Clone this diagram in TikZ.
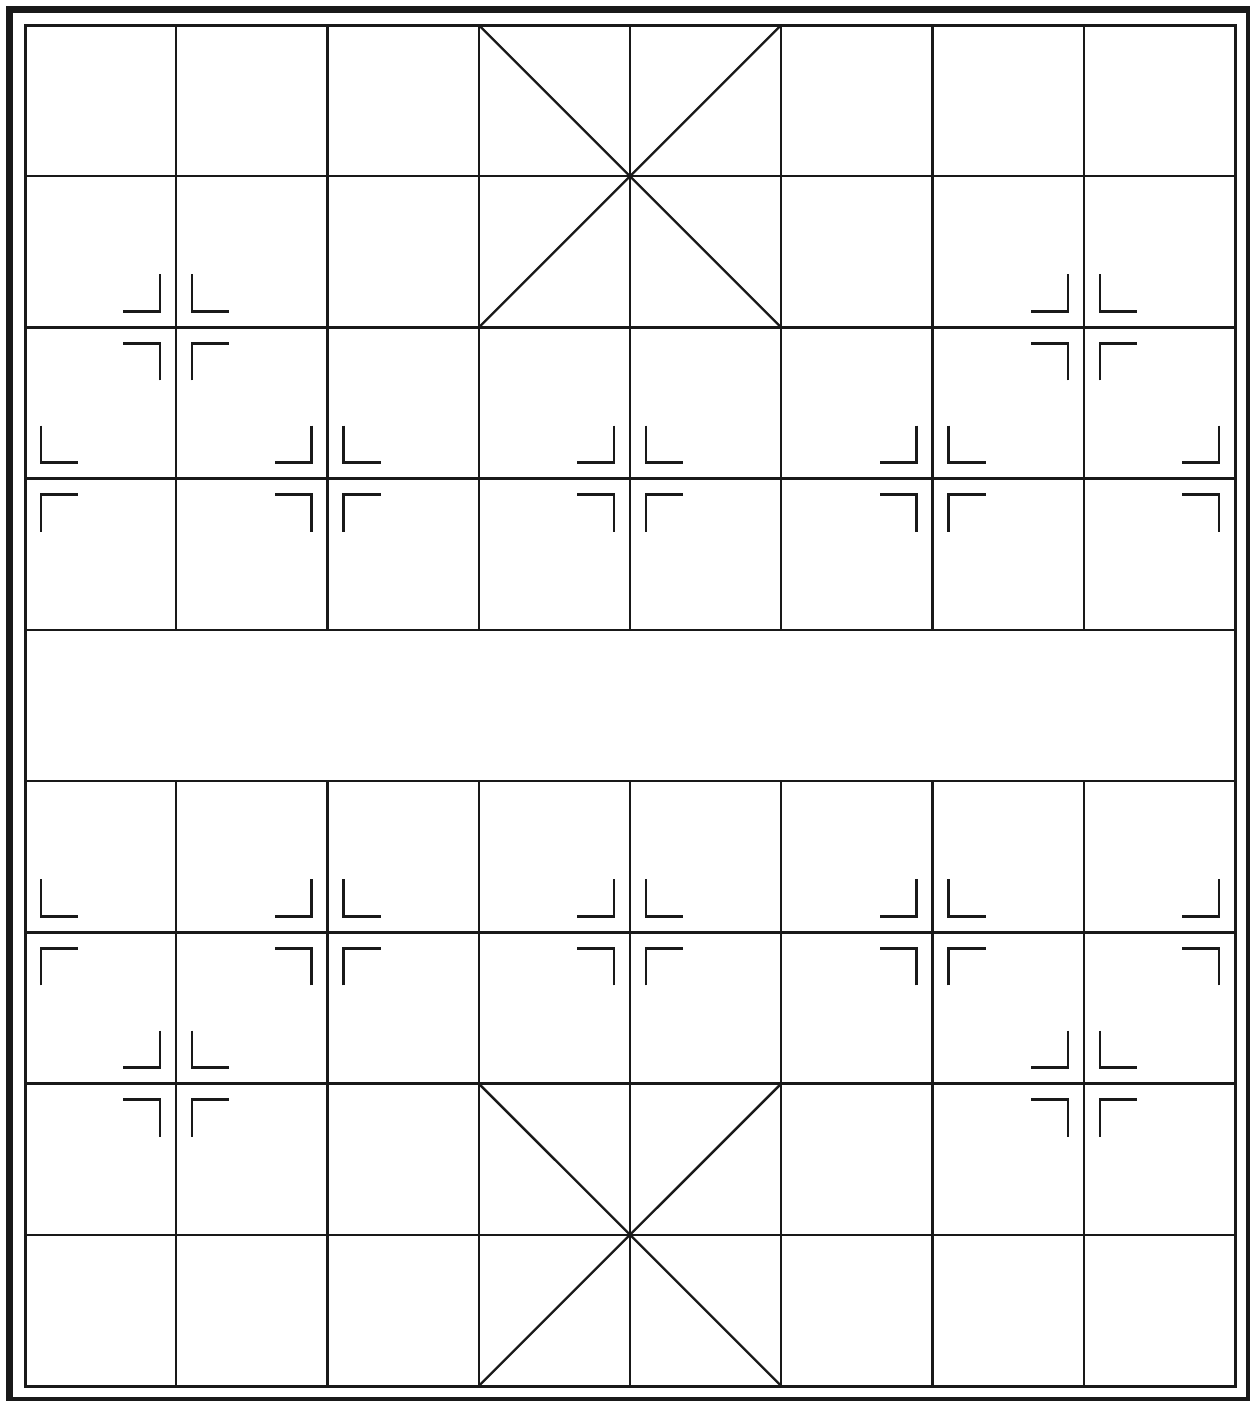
\documentclass[tikz,border=0pt]{standalone}
\begin{document}
\begin{tikzpicture}[x=0.02cm,y=-0.02cm,
  gridline/.style={line width=2.4*0.02cm, color=black!90},
  innerframe/.style={line width=3*0.02cm, color=black!90},
  outerframe/.style={line width=7*0.02cm, color=black!90},
  markline/.style={line width=2.4*0.02cm, color=black!90}]
\useasboundingbox (0,0) rectangle (1250,1401);
\begin{scope}
\clip (0,0) rectangle (1250,1401);
\draw[outerframe] (9.5,9.5) rectangle (1249.5,1400.5);
\end{scope}
\def\cx{151.25}
\def\cy{151.222}
% inner frame
\draw[innerframe] (25,25) rectangle (25+8*\cx,25+9*\cy);
% horizontal lines
\foreach \j in {1,...,8}
  \draw[gridline] (25,25+\j*\cy) -- (25+8*\cx,25+\j*\cy);
% vertical lines (broken by river)
\foreach \i in {1,...,7}{
  \draw[gridline] (25+\i*\cx,25) -- (25+\i*\cx,25+4*\cy);
  \draw[gridline] (25+\i*\cx,25+5*\cy) -- (25+\i*\cx,25+9*\cy);
}
% palaces
\draw[gridline] (25+3*\cx,25) -- (25+5*\cx,25+2*\cy);
\draw[gridline] (25+5*\cx,25) -- (25+3*\cx,25+2*\cy);
\draw[gridline] (25+3*\cx,25+7*\cy) -- (25+5*\cx,25+9*\cy);
\draw[gridline] (25+5*\cx,25+7*\cy) -- (25+3*\cx,25+9*\cy);
% position marks
\def\d{16}
\def\a{37}
\foreach \i/\j/\sxs in {1/2/{-1,1},7/2/{-1,1},1/7/{-1,1},7/7/{-1,1},
  0/3/{1},2/3/{-1,1},4/3/{-1,1},6/3/{-1,1},8/3/{-1},
  0/6/{1},2/6/{-1,1},4/6/{-1,1},6/6/{-1,1},8/6/{-1}}{
  \foreach \sx in \sxs{
    \foreach \sy in {-1,1}{
      \draw[markline] (25+\i*\cx+\sx*\d,25+\j*\cy+\sy*\d+\sy*\a)
        -- (25+\i*\cx+\sx*\d,25+\j*\cy+\sy*\d)
        -- (25+\i*\cx+\sx*\d+\sx*\a,25+\j*\cy+\sy*\d);
    }
  }
}
\end{tikzpicture}
\end{document}
